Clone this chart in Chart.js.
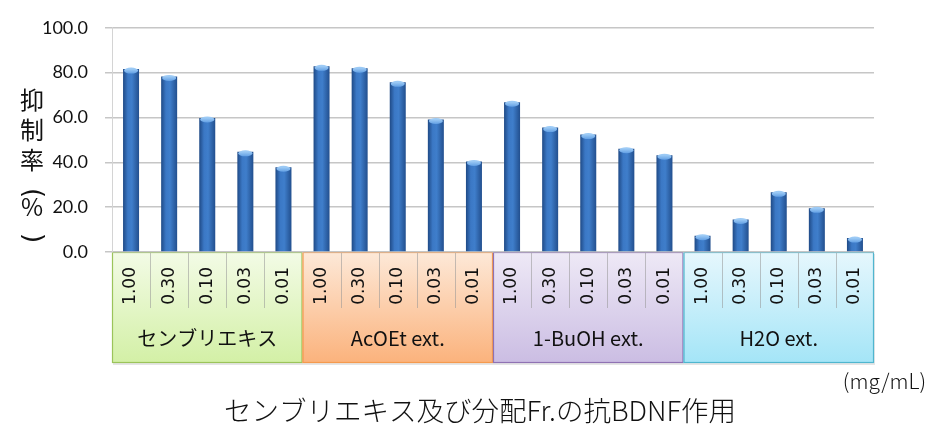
<!DOCTYPE html>
<html><head><meta charset="utf-8">
<script src="https://cdn.jsdelivr.net/npm/chart.js@4"></script>
<style>html,body{margin:0;padding:0;background:#fff}#wrap{width:944px;height:441px}</style>
</head><body><div id="wrap"><canvas id="c" width="944" height="441"></canvas></div>
<script>
// ---- data ----
const doses = ['1.00', '0.30', '0.10', '0.03', '0.01'];
const groups = ['センブリエキス', 'AcOEt ext.', '1-BuOH ext.', 'H2O ext.'];
const senburi = [81.6, 78.3, 59.8, 44.7, 37.8];
const acoet = [82.8, 82.0, 75.7, 59.1, 40.4];
const buoh = [66.8, 55.5, 52.4, 46.1, 43.2];
const h2o = [7.3, 14.5, 26.6, 19.5, 6.2];
const yTicks = [0, 20, 40, 60, 80, 100];
const yTitleChars = ['抑', '制', '率', '(', '%', ')'];
const unitLabel = '(mg/mL)';
const chartTitle = 'センブリエキス及び分配Fr.の抗BDNF作用';

// ---- styles ----
const groupStyles = [
  {top: '#f3fbe6', bottom: '#d3f0a6', border: '#9bc45a'},
  {top: '#fde9d8', bottom: '#fbb27c', border: '#f59a4e'},
  {top: '#eee9f6', bottom: '#cbbde3', border: '#8f72b3'},
  {top: '#e6f7fd', bottom: '#a4e5f7', border: '#4fb6cf'}
];

const labels = [];
groups.forEach(() => doses.forEach(d => labels.push(d)));
const values = [].concat(senburi, acoet, buoh, h2o);
const BAR_W = 16;

const boxesPlugin = {
  id: 'boxes',
  beforeDraw(chart) {
    const ctx = chart.ctx, xs = chart.scales.x;
    const top = xs.top, bottom = xs.bottom, sepBottom = top + 56;
    const n = doses.length;
    const step = xs.getPixelForValue(1) - xs.getPixelForValue(0);
    ctx.save();
    groups.forEach((g, gi) => {
      const st = groupStyles[gi];
      const x0 = xs.getPixelForValue(gi * n) - step / 2;
      const x1 = xs.getPixelForValue(gi * n + n - 1) + step / 2;
      ctx.fillStyle = 'rgba(0,0,0,0.10)';
      ctx.fillRect(x0 + 1, top + 2, x1 - x0, bottom - top);
      const grd = ctx.createLinearGradient(0, top, 0, bottom);
      grd.addColorStop(0, st.top);
      grd.addColorStop(1, st.bottom);
      ctx.fillStyle = grd;
      ctx.fillRect(x0, top, x1 - x0, bottom - top);
      ctx.strokeStyle = st.border;
      ctx.lineWidth = 1.2;
      ctx.strokeRect(x0 + 0.5, top + 0.5, x1 - x0 - 1, bottom - top - 1);
      ctx.strokeStyle = 'rgba(150,150,150,0.55)';
      ctx.lineWidth = 1;
      for (let i = 1; i < n; i++) {
        const sx = Math.round(xs.getPixelForValue(gi * n + i) - step / 2) + 0.5;
        ctx.beginPath(); ctx.moveTo(sx, top + 1); ctx.lineTo(sx, sepBottom); ctx.stroke();
      }
      ctx.fillStyle = '#111';
      ctx.font = '20px "Noto Sans CJK JP", "Noto Sans", sans-serif';
      ctx.textAlign = 'center';
      ctx.textBaseline = 'middle';
      ctx.fillText(g, (x0 + x1) / 2, top + 86);
    });
    ctx.restore();
  },
  afterDatasetsDraw(chart) {
    const ctx = chart.ctx;
    const meta = chart.getDatasetMeta(0);
    ctx.save();
    meta.data.forEach(bar => {
      const w = bar.width, x = bar.x, y = bar.y;
      const g = ctx.createLinearGradient(0, y, 0, y + 5);
      g.addColorStop(0, '#9ccaf5');
      g.addColorStop(1, '#5c9be2');
      ctx.fillStyle = g;
      ctx.beginPath();
      ctx.ellipse(x, y + 1.5, w / 2 - 1, 3, 0, 0, Math.PI * 2);
      ctx.fill();
    });
    ctx.restore();
  },
  afterDraw(chart) {
    const ctx = chart.ctx;
    ctx.save();
    ctx.fillStyle = '#111';
    ctx.textAlign = 'center';
    ctx.textBaseline = 'middle';
    const ys = [100, 130, 160, 193, 207, 238];
    yTitleChars.forEach((c, i) => {
      if (c === '(' || c === ')') {
        ctx.save();
        ctx.font = '26px "DejaVu Sans", sans-serif';
        ctx.translate(32, ys[i]);
        ctx.rotate(Math.PI / 2);
        ctx.fillText(c, 0, 0);
        ctx.restore();
      } else {
        ctx.font = '24px "Noto Sans CJK JP", sans-serif';
        ctx.fillText(c, 32, ys[i]);
      }
    });
    ctx.font = '300 21px "Noto Sans CJK JP", "Noto Sans", sans-serif';
    ctx.textAlign = 'right';
    ctx.fillText(unitLabel, 926, 381);
    ctx.font = '300 27.5px "Noto Sans CJK JP", sans-serif';
    ctx.textAlign = 'center';
    ctx.fillText(chartTitle, 480, 411);
    ctx.restore();
  }
};

new Chart(document.getElementById('c'), {
  type: 'bar',
  data: {
    labels: labels,
    datasets: [{
      data: values,
      categoryPercentage: 1,
      barPercentage: 0.42,
      borderWidth: 0,
      backgroundColor: (c) => {
        const chart = c.chart;
        if (!chart.chartArea) return '#3a74bd';
        const x = chart.scales.x.getPixelForValue(c.dataIndex);
        const g = chart.ctx.createLinearGradient(x - BAR_W / 2, 0, x + BAR_W / 2, 0);
        g.addColorStop(0, '#1f4a86');
        g.addColorStop(0.3, '#3b78c5');
        g.addColorStop(0.55, '#3f7ecb');
        g.addColorStop(1, '#224f8e');
        return g;
      }
    }]
  },
  options: {
    responsive: false,
    animation: false,
    devicePixelRatio: 1,
    layout: {padding: {left: 0, top: 20, right: 70, bottom: 78}},
    plugins: {legend: {display: false}, tooltip: {enabled: false}, title: {display: false}},
    scales: {
      x: {
        grid: {display: false, drawTicks: false},
        border: {display: false},
        ticks: {
          maxRotation: 90, minRotation: 90, autoSkip: false, padding: 15,
          color: '#111',
          font: {family: 'DejaVu Sans', size: 17}
        },
        afterFit: (s) => { s.height = 111; }
      },
      y: {
        min: 0, max: 100,
        afterBuildTicks: (s) => { s.ticks = yTicks.map(v => ({value: v})); },
        ticks: {
          padding: 17, color: '#111',
          callback: (v) => Number(v).toFixed(1),
          font: {family: 'Lato', size: 18}
        },
        grid: {color: '#c6c6c6', lineWidth: 1.5, tickLength: 7},
        border: {display: true, color: '#d4d4d4', width: 1},
        afterFit: (s) => { s.width = 112; }
      }
    }
  },
  plugins: [boxesPlugin]
});
</script>
</body></html>
